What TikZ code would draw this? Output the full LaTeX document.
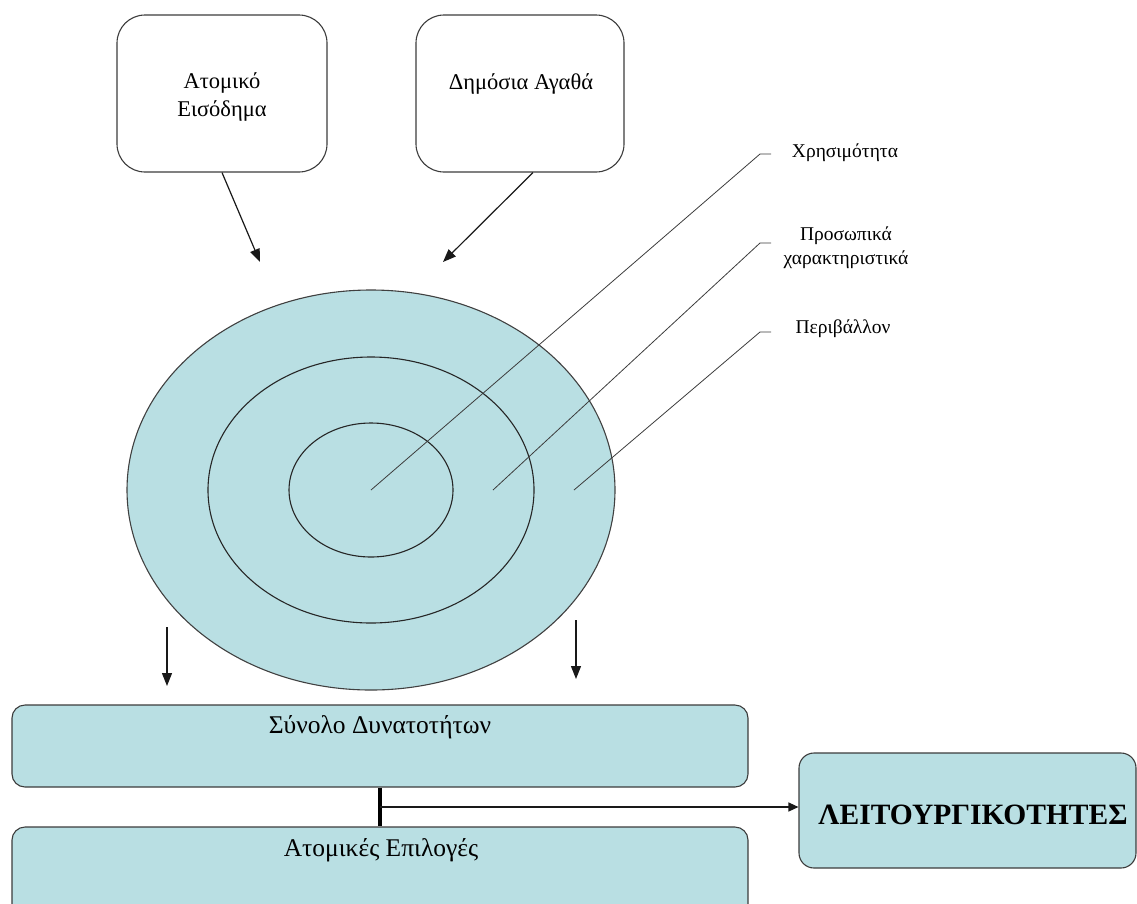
\documentclass[tikz,border=0pt]{standalone}
\usepackage{fontspec}
\setmainfont{Liberation Serif}
\usetikzlibrary{arrows.meta,shapes.geometric}
\definecolor{cellblue}{RGB}{185,223,227}
\definecolor{edge}{RGB}{60,60,60}
\tikzset{
  topbox/.style={draw=edge, line width=1.1pt, rounded corners=28pt, inner sep=0pt},
  bluebox/.style={draw=edge, line width=1.1pt, fill=cellblue, rounded corners=13pt, inner sep=0pt},
  ring/.style={draw=black!85, line width=1.1pt, ellipse, inner sep=0pt},
  lbl/.style={font=\fontsize{19.5}{24}\selectfont, align=center, inner sep=0pt},
  boxtxt/.style={font=\fontsize{22.5}{28}\selectfont, align=center, inner sep=0pt},
  bigtxt/.style={font=\fontsize{25.5}{28}\selectfont, inner sep=0pt},
  leader/.style={draw=edge, line width=0.8pt},
  arr/.style={draw=black!90, line width=1.2pt, -{Triangle[length=13pt,width=10pt]}},
}
\begin{document}
\begin{tikzpicture}[x=1pt,y=-1pt]
\useasboundingbox (0,0) rectangle (1137,903);
\clip (0,0) rectangle (1137,903);
% top boxes
\node[topbox, minimum width=210pt, minimum height=157pt] (inc) at (222,93.5) {};
\node[boxtxt] (inct) at (222,97) {Ατομικό\\Εισόδημα};
\node[topbox, minimum width=208pt, minimum height=157pt] (pub) at (520,93.5) {};
\node[boxtxt] (pubt) at (521,84) {Δημόσια Αγαθά};
% ellipses
\node[ring, fill=cellblue, draw=black!75, minimum width=488pt, minimum height=400pt] (env) at (371,490) {};
\node[ring, minimum width=326pt, minimum height=266pt] (pers) at (371,490) {};
\node[ring, minimum width=164pt, minimum height=134pt] (util) at (371,490) {};
% arrows into the rings
\coordinate (t1) at (260,262);
\coordinate (t2) at (443,262);
\draw[arr] (inc.south) -- (t1);
\draw[arr] ([xshift=13pt]pub.south) -- (t2);
% leader lines and labels
\coordinate (c1) at (371,490);
\coordinate (c2) at (493,490);
\coordinate (c3) at (574,490);
\coordinate (k1) at (760,154);
\coordinate (k2) at (760,243);
\coordinate (k3) at (760,332);
\node[lbl] (l1) at (845,153) {Χρησιμότητα};
\node[lbl] (l2) at (846,248) {Προσωπικά\\χαρακτηριστικά};
\node[lbl] (l3) at (843,329) {Περιβάλλον};
\draw[leader] (c1) -- (k1) -- ++(11,0);
\draw[leader] (c2) -- (k2) -- ++(11,0);
\draw[leader] (c3) -- (k3) -- ++(11,0);
% down arrows
\coordinate (d1a) at (167,627);
\coordinate (d1b) at (167,686);
\coordinate (d2a) at (576,620);
\coordinate (d2b) at (576,679);
\draw[arr] (d1a) -- (d1b);
\draw[arr] (d2a) -- (d2b);
% bottom boxes
\node[bluebox, minimum width=736pt, minimum height=82pt] (set) at (380,746) {};
\node[bigtxt] (sett) at (380,727) {Σύνολο Δυνατοτήτων};
\node[bluebox, minimum width=736pt, minimum height=90pt] (cho) at (380,872) {};
\node[bigtxt] (chot) at (381,850) {Ατομικές Επιλογές};
\node[bluebox, rounded corners=15pt, minimum width=337pt, minimum height=115pt] (fun) at (967.5,810.5) {};
\node[font=\fontsize{29.5}{32}\selectfont\bfseries, inner sep=0pt] (funt) at (973,815) {ΛΕΙΤΟΥΡΓΙΚΟΤΗΤΕΣ};
% connectors
\draw[black, line width=4pt] (set.south) -- (cho.north);
\coordinate (j) at (380,807);
\draw[draw=black!90, line width=1.2pt, -{Triangle[length=10pt,width=9pt]}] (j) -- (j -| fun.west);
\end{tikzpicture}
\end{document}
